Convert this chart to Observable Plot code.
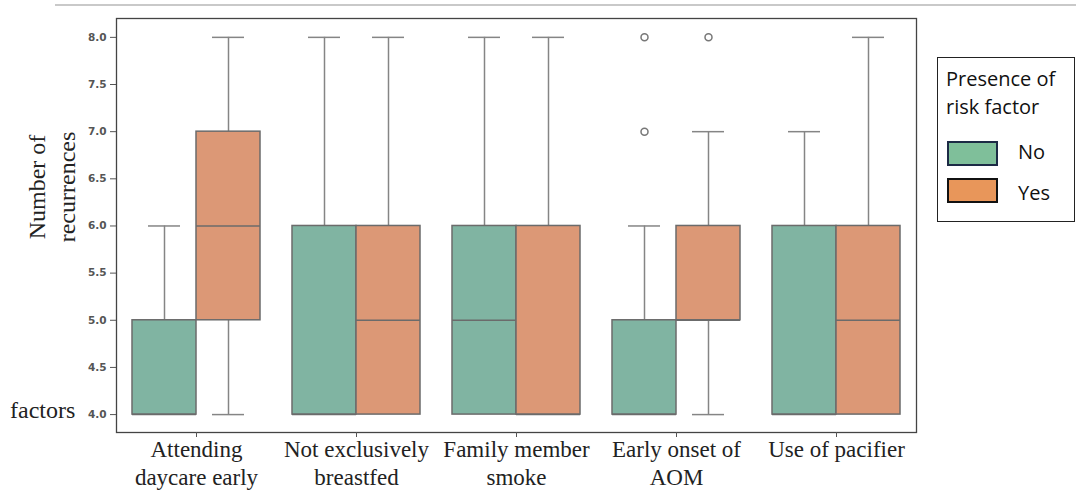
<!DOCTYPE html>
<html>
<head>
<meta charset="utf-8">
<script src="https://cdn.jsdelivr.net/npm/d3@7"></script>
<script src="https://cdn.jsdelivr.net/npm/@observablehq/plot@0.6"></script>
<style>
  body { margin: 0; background: #fff; width: 1076px; height: 491px; overflow: hidden; position: relative; }
  #chart { position: absolute; left: 0; top: 0; }
  .topline { position: absolute; left: 55px; top: 4px; width: 1021px; height: 2px; background: #c9c9c9; }
  .ylab { position: absolute; left: 52px; top: 187px; transform: translate(-50%, -50%) rotate(-90deg);
          font-family: "Liberation Serif", "DejaVu Serif", serif; font-size: 24px; line-height: 30px;
          text-align: center; color: #222; white-space: nowrap; }
  .factors { position: absolute; left: 10px; top: 397px; font-family: "Liberation Serif", serif; font-size: 24px; color: #222; }
  .legend { position: absolute; left: 937px; top: 57px; width: 138px; height: 165px; border: 1px solid #222;
            box-sizing: border-box; background: #fff; font-family: "Open Sans", "Noto Sans", sans-serif; color: #111; }
  .legend .title { position: absolute; left: 8px; top: 7px; font-size: 20px; line-height: 28px; white-space: nowrap; }
  .legend .sw { position: absolute; left: 9px; width: 51px; height: 25px; box-sizing: border-box; }
  .legend .lab { position: absolute; left: 80px; font-size: 20px; }
</style>
</head>
<body>
<div class="topline"></div>
<div id="chart"></div>
<div class="ylab">Number of<br>recurrences</div>
<div class="factors">factors</div>
<div class="legend">
  <div class="title">Presence of<br>risk factor</div>
  <div class="sw" style="top:83px;background:#7fbf9a;border:2px solid #1c2a45;"></div>
  <div class="lab" style="top:80px;">No</div>
  <div class="sw" style="top:120px;background:#e8965a;border:2.5px solid #111;"></div>
  <div class="lab" style="top:121px;">Yes</div>
</div>
<script>
const categories = ["Attending\ndaycare early", "Not exclusively\nbreastfed", "Family member\nsmoke", "Early onset of\nAOM", "Use of pacifier"];
const groups = ["No", "Yes"];
// per category, per group: [No, Yes]
const q1Values     = [[4, 5], [4, 4], [4, 4], [4, 5], [4, 4]];
const medianValues = [[4, 6], [4, 5], [5, 4], [4, 5], [4, 5]];
const q3Values     = [[5, 7], [6, 6], [6, 6], [5, 6], [6, 6]];
const lowWhisker   = [[4, 4], [4, 4], [4, 4], [4, 4], [4, 4]];
const highWhisker  = [[6, 8], [8, 8], [8, 8], [6, 7], [7, 8]];
const outlierCats   = [3, 3, 3];
const outlierGroups = ["No", "No", "Yes"];
const outlierValues = [7, 8, 8];
const yTicks = [4.0, 4.5, 5.0, 5.5, 6.0, 6.5, 7.0, 7.5, 8.0];

const colors = {No: "#80b4a2", Yes: "#dc9876"};
const halfBox = 0.2; // fraction of a category, x units

const boxes = [];
categories.forEach((c, i) => groups.forEach((g, j) => {
  const center = i + (j === 0 ? -halfBox : halfBox);
  boxes.push({
    cat: i, group: g, center,
    left: center - halfBox, right: center + halfBox,
    capL: center - halfBox / 2, capR: center + halfBox / 2,
    q1: q1Values[i][j], med: medianValues[i][j], q3: q3Values[i][j],
    lo: lowWhisker[i][j], hi: highWhisker[i][j]
  });
}));
const outliers = outlierValues.map((v, k) => ({
  x: outlierCats[k] + (outlierGroups[k] === "No" ? -halfBox : halfBox), y: v
}));

const edge = "#6b6b6b";
const whisk = "#858585";

const chart = Plot.plot({
  width: 1076,
  height: 491,
  marginLeft: 116,
  marginRight: 160,
  marginTop: 18,
  marginBottom: 59,
  style: {background: "transparent", overflow: "visible"},
  x: {domain: [-0.5, 4.5], axis: null},
  y: {domain: [3.81, 8.2], axis: null},
  marks: [
    // whiskers
    Plot.ruleX(boxes, {x: "center", y1: "q3", y2: "hi", stroke: whisk, strokeWidth: 1.5}),
    Plot.ruleX(boxes, {x: "center", y1: "lo", y2: "q1", stroke: whisk, strokeWidth: 1.5}),
    Plot.ruleY(boxes.filter(d => d.hi > d.q3), {y: "hi", x1: "capL", x2: "capR", stroke: whisk, strokeWidth: 1.5}),
    Plot.ruleY(boxes.filter(d => d.lo < d.q1), {y: "lo", x1: "capL", x2: "capR", stroke: whisk, strokeWidth: 1.5}),
    // boxes
    Plot.rect(boxes, {x1: "left", x2: "right", y1: "q1", y2: "q3", fill: d => colors[d.group], stroke: edge, strokeWidth: 1.5}),
    Plot.ruleY(boxes, {y: "med", x1: "left", x2: "right", stroke: edge, strokeWidth: 1.5}),
    // outliers
    Plot.dot(outliers, {x: "x", y: "y", r: 3.5, stroke: "#777", strokeWidth: 1.5, fill: "none"}),
    // frame
    Plot.frame({stroke: "#444", strokeWidth: 1.3}),
    // axes
    Plot.axisY(yTicks, {
      tickFormat: d => d.toFixed(1), tickSize: 6, tickPadding: 4,
      fontSize: 10.5, fontWeight: "bold", fill: "#555", stroke: "#555", fontFamily: "DejaVu Sans, sans-serif"
    }),
    Plot.axisX(d3.range(categories.length), {
      tickFormat: i => categories[i], tickSize: 5, tickPadding: 0,
      fontSize: 23, lineHeight: 1.2, fill: "#222", stroke: "#555",
      fontFamily: "Liberation Serif, DejaVu Serif, serif"
    })
  ]
});
document.getElementById("chart").appendChild(chart);
</script>
</body>
</html>
